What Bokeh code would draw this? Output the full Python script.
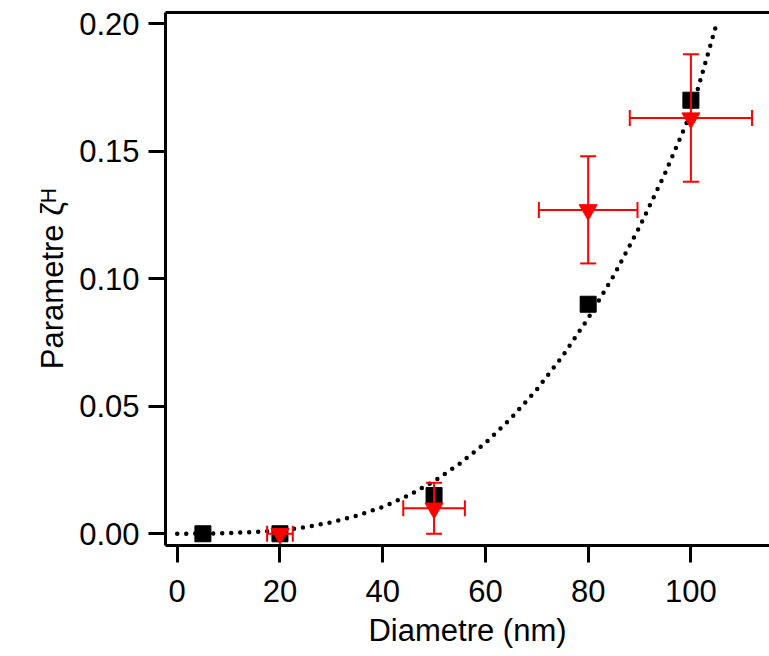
import math
from bokeh.plotting import figure
from bokeh.models import Range1d, FixedTicker, LinearAxis, ColumnDataSource, PrintfTickFormatter
from bokeh.embed import file_html
from bokeh.resources import INLINE

# ---- data ----
sq_x = [5, 20, 50, 80, 100]
sq_y = [0.0, 0.0, 0.015, 0.090, 0.170]

tri_x = [20, 50, 80, 100]
tri_y = [0.0, 0.010, 0.127, 0.163]
tri_xerr = [2.5, 6.0, 9.6, 11.9]
tri_yerr = [0.0, 0.010, 0.021, 0.025]

fit_x = [0, 10, 20, 25, 30, 35, 40, 45, 50, 55, 60, 65, 70, 75, 80, 85, 90, 95, 100, 105]
fit_y = [0.0, 0.0002, 0.0013, 0.0026, 0.0045, 0.0071, 0.0105, 0.0150, 0.0206, 0.0275,
         0.0356, 0.0453, 0.0566, 0.0696, 0.0845, 0.1013, 0.1203, 0.1415, 0.1650, 0.2000]

x_ticks = [0, 20, 40, 60, 80, 100]
y_ticks = [0.00, 0.05, 0.10, 0.15, 0.20]

x_title = "Diametre (nm)"
y_title = "Parametre ζᴴ"

FONT = "Liberation Sans"
RED = "#ff0000"

p = figure(width=769, height=656, output_backend="svg", toolbar_location=None,
           x_range=Range1d(-2.28, 115.3), y_range=Range1d(-0.0046, 0.2044),
           min_border_left=165, min_border_right=0, min_border_top=12, min_border_bottom=111)
p.grid.visible = False
p.outline_line_color = None
p.background_fill_color = "white"
p.border_fill_color = "white"

for ax in (p.xaxis[0], p.yaxis[0]):
    ax.axis_line_width = 3
    ax.axis_line_color = "black"
    ax.major_tick_line_width = 3
    ax.major_tick_line_color = "black"
    ax.major_tick_out = 17
    ax.major_tick_in = 0
    ax.minor_tick_line_color = None
    ax.major_label_text_font = FONT
    ax.major_label_text_font_size = "31px"
    ax.major_label_text_color = "black"
    ax.axis_label_text_font = FONT
    ax.axis_label_text_font_style = "normal"
    ax.axis_label_text_font_size = "31px"
    ax.axis_label_text_color = "black"

p.xaxis[0].ticker = FixedTicker(ticks=x_ticks)
p.yaxis[0].ticker = FixedTicker(ticks=y_ticks)
p.yaxis[0].formatter = PrintfTickFormatter(format="%.2f")
p.xaxis[0].major_label_standoff = 17
p.yaxis[0].major_label_standoff = 9
p.xaxis[0].axis_label = x_title
p.xaxis[0].axis_label_standoff = 8
p.yaxis[0].axis_label = y_title
p.yaxis[0].axis_label_standoff = 6

top = LinearAxis(ticker=FixedTicker(ticks=[]), axis_line_width=3, axis_line_color="black",
                 major_tick_out=0, major_tick_in=0, major_label_standoff=0,
                 major_label_text_font_size="0px", minor_tick_line_color=None)
p.add_layout(top, "above")

# squares
p.scatter(sq_x, sq_y, marker="square", size=16, fill_color="black", line_color="black")

# fit curve (dotted)
p.line(fit_x, fit_y, line_color="black", line_width=4.5, line_dash="0 9", line_cap="round")

# error bars
src = ColumnDataSource(dict(
    x=tri_x, y=tri_y,
    xl=[a - e for a, e in zip(tri_x, tri_xerr)], xh=[a + e for a, e in zip(tri_x, tri_xerr)],
    yl=[a - e for a, e in zip(tri_y, tri_yerr)], yh=[a + e for a, e in zip(tri_y, tri_yerr)],
))
p.segment(x0="xl", y0="y", x1="xh", y1="y", source=src, line_color=RED, line_width=2)
p.segment(x0="x", y0="yl", x1="x", y1="yh", source=src, line_color=RED, line_width=2)
p.scatter(x="xl", y="y", source=src, marker="dash", angle=math.pi / 2, size=16, line_color=RED, line_width=2)
p.scatter(x="xh", y="y", source=src, marker="dash", angle=math.pi / 2, size=16, line_color=RED, line_width=2)
ysrc = ColumnDataSource(dict(
    x=[a for a, e in zip(tri_x, tri_yerr) if e > 0],
    yl=[a - e for a, e in zip(tri_y, tri_yerr) if e > 0],
    yh=[a + e for a, e in zip(tri_y, tri_yerr) if e > 0],
))
p.scatter(x="x", y="yl", source=ysrc, marker="dash", size=16, line_color=RED, line_width=2)
p.scatter(x="x", y="yh", source=ysrc, marker="dash", size=16, line_color=RED, line_width=2)

# triangles
p.scatter(tri_x, tri_y, marker="inverted_triangle", size=18, fill_color=RED, line_color=RED)

open("out.html", "w").write(file_html(p, INLINE))
